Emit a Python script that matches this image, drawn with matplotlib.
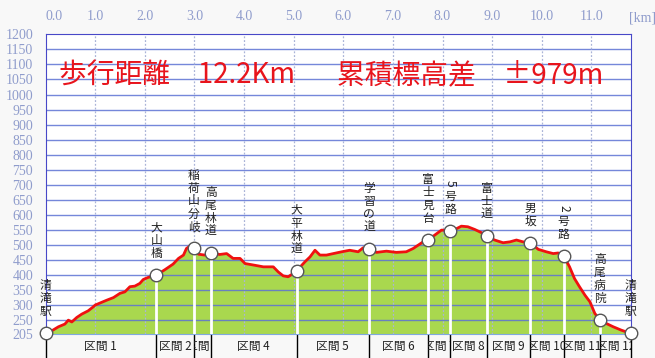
import matplotlib.pyplot as plt
from matplotlib.transforms import Bbox, TransformedBbox, blended_transform_factory

plt.rcParams['font.family'] = ['Noto Sans CJK JP', 'DejaVu Sans']

# elevation profile (km, m)
dist_km = [0.00, 0.12, 0.26, 0.39, 0.46, 0.53, 0.63, 0.73, 0.86, 0.96, 1.00, 1.10,
           1.23, 1.37, 1.50, 1.60, 1.70, 1.80, 1.90, 1.97, 2.07, 2.23, 2.41, 2.57,
           2.68, 2.78, 2.84, 2.91, 2.99, 3.08, 3.21, 3.33, 3.51, 3.65, 3.78, 3.92,
           4.02, 4.19, 4.39, 4.59, 4.69, 4.79, 4.89, 4.99, 5.06, 5.23, 5.33, 5.43,
           5.53, 5.66, 5.80, 5.97, 6.13, 6.30, 6.40, 6.52, 6.67, 6.87, 7.07, 7.27,
           7.41, 7.61, 7.71, 7.84, 7.98, 8.15, 8.25, 8.38, 8.51, 8.65, 8.79, 8.89,
           9.05, 9.22, 9.36, 9.49, 9.62, 9.77, 9.93, 10.09, 10.23, 10.33, 10.44,
           10.56, 10.66, 10.76, 10.87, 10.97, 11.07, 11.17, 11.30, 11.44, 11.60, 11.79]
elev_m = [207, 215, 229, 238, 251, 245, 260, 271, 282, 295, 301, 308,
          317, 326, 340, 345, 362, 364, 373, 386, 393, 400, 419, 437,
          456, 467, 489, 497, 489, 470, 467, 474, 469, 472, 456, 456,
          439, 434, 428, 428, 411, 398, 395, 406, 415, 445, 461, 483,
          467, 467, 472, 478, 483, 478, 491, 487, 476, 480, 476, 478,
          489, 511, 517, 533, 550, 548, 552, 563, 561, 552, 541, 531,
          517, 508, 511, 517, 511, 508, 486, 478, 472, 474, 465,
          428, 389, 362, 334, 312, 273, 253, 240, 229, 218, 207]

# waypoints
wp_names = ['清滝駅', '大山橋', '稲荷山分岐', '高尾林道', '大平林道', '学習の道', '富士見台',
            '5号路', '富士道', '男坂', '2号路', '高尾病院', '清滝駅']
wp_km = [0.00, 2.23, 2.99, 3.33, 5.06, 6.52, 7.71, 8.15, 8.89, 9.77, 10.44, 11.17, 11.79]
wp_elev = [207, 400, 489, 474, 415, 487, 517, 548, 531, 508, 465, 253, 207]

section_labels = ['区間 %d' % i for i in range(1, 13)]

x_ticks = [0, 1, 2, 3, 4, 5, 6, 7, 8, 9, 10, 11]
y_ticks = [205] + list(range(250, 1201, 50))

fig = plt.figure(figsize=(6.55, 3.58), dpi=100, facecolor='#f8f8f8')
ax = fig.add_axes([0.0695, 0.067, 0.894, 0.8373])
ax.set_facecolor('white')
ax.set_xlim(0, 11.8)
ax.set_ylim(205, 1200)

# grid
for y in y_ticks[1:-1]:
    ax.axhline(y, color='#5d72d4', lw=1.0, alpha=0.85, zorder=2)
for x in x_ticks[1:]:
    ax.axvline(x, color='#aab4d8', lw=0.9, ls=(0, (1.5, 1.5)), zorder=2)

ax.fill_between(dist_km, elev_m, 205, color='#a9d84e', lw=0, zorder=1)

# white drop lines
for k, e in zip(wp_km, wp_elev):
    ax.plot([k, k], [205, e], color='white', lw=2, zorder=3, solid_capstyle='butt')

ax.plot(dist_km, elev_m, color='#f01010', lw=2.0, zorder=4)
ax.plot(wp_km, wp_elev, 'o', ms=9, mfc='white', mec='#555555', mew=1.0, zorder=5,
        clip_on=False)

# vertical waypoint labels
for name, k, e in zip(wp_names, wp_km, wp_elev):
    n = len(name)
    for i, ch in enumerate(name):
        off_px = 15 + 6.5 + 13 * (n - 1 - i)
        rot = -90 if ch.isdigit() else 0
        ax.annotate(ch, (k, e), xytext=(0, off_px * 0.72), textcoords='offset points',
                    ha='center', va='center', fontsize=8.5, color='#222222',
                    rotation=rot, zorder=6, annotation_clip=False)

# titles
ax.text(0.27, 1063, '歩行距離　12.2Km', color='#e8141c', fontsize=20,
        ha='left', va='center', zorder=6)
ax.text(5.87, 1063, '累積標高差　±979m', color='#e8141c', fontsize=20,
        ha='left', va='center', zorder=6)

# section bar below the plot
trans = blended_transform_factory(ax.transData, ax.transAxes)
for k in wp_km:
    ax.plot([k, k], [0, -0.085], color='black', lw=1, transform=trans, clip_on=False)
for i, lab in enumerate(section_labels):
    x0, x1 = wp_km[i], wp_km[i + 1]
    t = ax.text((x0 + x1) / 2, -0.042, lab, transform=trans, ha='center', va='center',
                fontsize=8.5, color='#222222', clip_on=True)
    t.set_clip_box(TransformedBbox(Bbox([[x0, -0.1], [x1, 0]]), trans))

# axes styling
for side in ['left', 'top', 'right']:
    ax.spines[side].set_color('#4848c8')
ax.spines['bottom'].set_color('#80a8e0')
ax.xaxis.tick_top()
ax.set_xticks(x_ticks)
ax.set_xticklabels(['%.1f' % v for v in x_ticks], family='Liberation Serif', fontsize=10,
                   color='#8f9ccc')
ax.get_xticklabels()[0].set_horizontalalignment('left')
ax.set_yticks(y_ticks)
ax.set_yticklabels([str(v) for v in y_ticks], family='Liberation Serif', fontsize=10,
                   color='#8f9ccc')
ax.tick_params(length=0)
ax.tick_params(axis='x', pad=8)
ax.tick_params(axis='y', pad=9)
fig.text(643 / 655, 1 - 18 / 358, '[km]', family='Liberation Serif', fontsize=10,
         color='#8f9ccc', ha='center', va='center')

fig.savefig('out.png', dpi=100, facecolor=fig.get_facecolor())
